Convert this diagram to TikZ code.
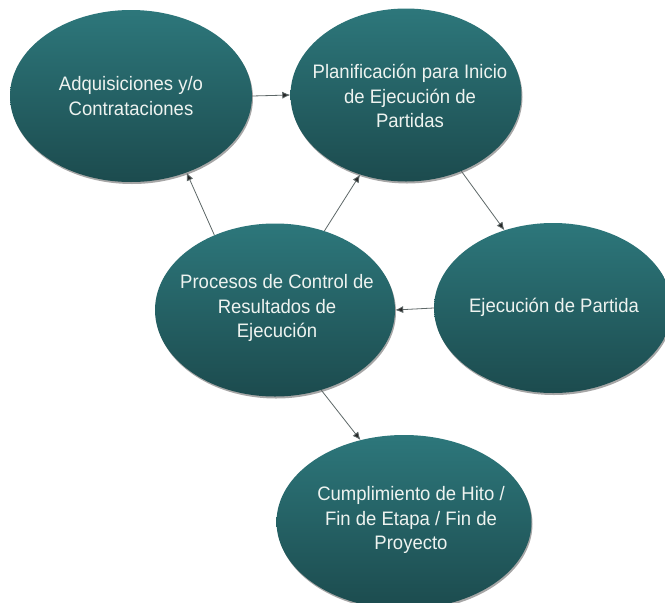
\documentclass[tikz,border=0pt]{standalone}
\usepackage{fontspec}
\setmainfont[FakeStretch=0.95]{Liberation Sans}
\usetikzlibrary{shapes.geometric,arrows.meta}
\definecolor{tealtop}{HTML}{2D777B}
\definecolor{tealbot}{HTML}{1C4B4E}
\definecolor{txtc}{HTML}{EEF3F0}
\definecolor{linec}{HTML}{5E6868}
\tikzset{
  bubble/.style={ellipse, top color=tealtop, bottom color=tealbot, draw=none, inner sep=0pt},
  bubshadow/.style={ellipse, fill=black, opacity=0.35, draw=none, inner sep=0pt},
  bubtext/.style={text=txtc, align=center, inner sep=0pt, font=\fontsize{19.5}{24.5}\selectfont},
  arr/.style={draw=linec, line width=0.8pt, -{Latex[length=8pt,width=7pt,fill=black!85]}}
}
\begin{document}
\begin{tikzpicture}[x=1pt,y=-1pt]
\useasboundingbox (0,0) rectangle (665,603);
\fill[white] (0,0) rectangle (665,603);
\begin{scope}
\clip (0,0) rectangle (665,603);
\node[bubshadow, minimum width=242pt, minimum height=172pt] (As) at (132,98) {};
\node[bubshadow, minimum width=231pt, minimum height=173pt] (Ps) at (407,97) {};
\node[bubshadow, minimum width=238pt, minimum height=170pt] (Es) at (554,310) {};
\node[bubshadow, minimum width=240pt, minimum height=173pt] (Cs) at (276,312) {};
\node[bubshadow, minimum width=255pt, minimum height=174pt] (Fs) at (405,524) {};
\node[bubble, minimum width=242pt, minimum height=172pt] (A) at (131,96) {};
\node[bubble, minimum width=231pt, minimum height=173pt] (P) at (406,95) {};
\node[bubble, minimum width=238pt, minimum height=170pt] (E) at (553,308) {};
\node[bubble, minimum width=240pt, minimum height=173pt] (C) at (275,310) {};
\node[bubble, minimum width=255pt, minimum height=174pt] (F) at (404,522) {};
\end{scope}
\node[bubtext] (At) at (131,96) {Adquisiciones y/o\\Contrataciones};
\node[bubtext] (Pt) at (410,96) {Planificación para Inicio\\de Ejecución de\\Partidas};
\node[bubtext] (Et) at (554,307) {Ejecución de Partida};
\node[bubtext] (Ct) at (277,308) {Procesos de Control de\\Resultados de\\Ejecución};
\node[bubtext] (Ft) at (411,520) {Cumplimiento de Hito /\\Fin de Etapa / Fin de\\Proyecto};
\draw[arr] (A.0) -- (P.180);
\draw[arr] (C.129) -- (A.306);
\draw[arr] (C.58.6) -- (P.240.6);
\draw[arr] (P.306.5) -- (E.122.5);
\draw[arr] (E.180) -- (C.0);
\draw[arr] (C.300.5) -- (F.118.2);
\end{tikzpicture}
\end{document}
